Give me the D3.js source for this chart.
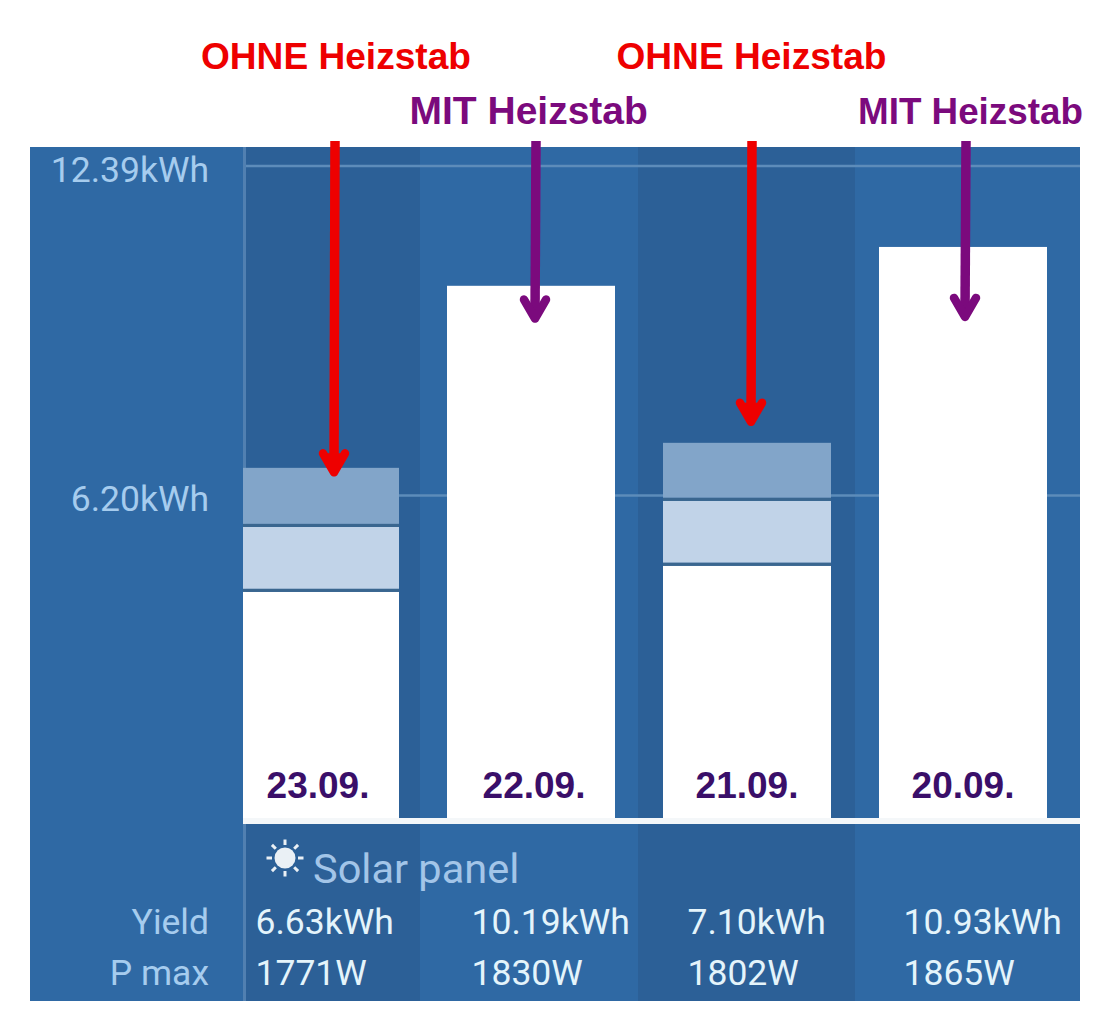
<!DOCTYPE html>
<html><head><meta charset="utf-8">
<script src="https://cdn.jsdelivr.net/npm/d3@7"></script>
<style>html,body{margin:0;padding:0;background:#fff}svg{display:block}</style>
</head><body><svg id="c" width="1113" height="1029"></svg>
<script>
const days = ["23.09.","22.09.","21.09.","20.09."];
const whiteKwh = [4.38,10.13,4.87,10.86];
const lightKwh = [1.22,0,1.22,0];
const mediumKwh = [1.11,0,1.09,0];
const yieldLabels = ["6.63kWh","10.19kWh","7.10kWh","10.93kWh"];
const pmaxLabels = ["1771W","1830W","1802W","1865W"];
const yTicks = [6.20,12.39];
const notes = [["OHNE Heizstab",0,"#ee0000"],["MIT Heizstab",1,"#7b0a7d"],["OHNE Heizstab",2,"#ee0000"],["MIT Heizstab",3,"#7b0a7d"]];

const svg = d3.select("#c");
const F = "Roboto, sans-serif", A = "'Liberation Sans', Arial, sans-serif";
const x = d3.scaleBand().domain(days).range([231,1047]).paddingInner(48/216).paddingOuter(0);
const y = d3.scaleLinear().domain([0,12.39]).range([825,165.5]);
const colour = {white:"#ffffff",light:"#c1d3e8",medium:"#82a5c9"};

svg.append("rect").attr("x",30).attr("y",147).attr("width",1050).attr("height",854).attr("fill","#2f69a4");
// alternating day bands
svg.append("g").selectAll("rect").data(days.filter((d,i)=>i%2===0)).join("rect")
  .attr("x",d=>days.indexOf(d)===0?244:x(d)-25).attr("y",147)
  .attr("width",d=>days.indexOf(d)===0?176:217).attr("height",854).attr("fill","#2c6097");

// axis and grid
const ax = svg.append("g").attr("transform","translate(244,0)")
  .call(d3.axisLeft(y).tickValues(yTicks).tickFormat(d=>d.toFixed(2)+"kWh").tickSize(-836).tickPadding(35));
ax.select(".domain").remove();
ax.selectAll("line").attr("stroke","#5d8cba").attr("stroke-width",2.5);
ax.selectAll("text").attr("font-family",F).attr("font-size",35.5).attr("fill","#a6ccee").attr("dy",15.5).attr("text-anchor","end");
svg.append("rect").attr("x",243).attr("y",147).attr("width",3).attr("height",854).attr("fill","#5180b1");

// stacked bars
svg.append("clipPath").attr("id","plot").append("rect").attr("x",243).attr("y",147).attr("width",837).attr("height",671);
const table = days.map((d,i)=>({day:d,white:whiteKwh[i],light:lightKwh[i],medium:mediumKwh[i]}));
const stacked = d3.stack().keys(["white","light","medium"])(table);
const bars = svg.append("g").attr("clip-path","url(#plot)");
stacked.forEach(s=>{
  bars.selectAll(null).data(s.filter(p=>p[1]>p[0])).join("rect")
    .attr("x",p=>x(p.data.day)).attr("width",x.bandwidth())
    .attr("y",p=>y(p[1]))
    .attr("height",p=>y(p[0])-y(p[1])-(p[0]>0?3:0))
    .attr("fill",colour[s.key]);
  // dark separator under upper segments
  bars.selectAll(null).data(s.filter(p=>p[1]>p[0]&&p[0]>0)).join("rect")
    .attr("x",p=>x(p.data.day)).attr("width",x.bandwidth())
    .attr("y",p=>y(p[0])-3).attr("height",3).attr("fill","#3a668f");
});
svg.append("rect").attr("x",243).attr("y",818).attr("width",837).attr("height",6).attr("fill","#f4f7f9");

// date labels
svg.append("g").selectAll("text").data(days).join("text")
  .attr("x",(d,i)=>x(d)+x.bandwidth()/2+(i<2?3:0)).attr("y",798).attr("text-anchor","middle")
  .attr("font-family",A).attr("font-weight",700).attr("font-size",37).attr("fill","#3a0f69").text(d=>d);

// table below the chart
svg.append("text").attr("x",313).attr("y",883).attr("font-family",F).attr("font-size",41.5).attr("fill","#a3c5e8").text("Solar panel");
const sun = svg.append("g").attr("transform","translate(285,858)");
sun.append("circle").attr("r",10.5).attr("fill","#eaf0f5");
sun.selectAll("line").data(d3.range(8)).join("line")
  .attr("x1",0).attr("x2",0).attr("y1",-13).attr("y2",-18.5)
  .attr("transform",d=>`rotate(${d*45})`).attr("stroke","#eaf0f5").attr("stroke-width",3);
[["Yield",934,yieldLabels],["P max",985,pmaxLabels]].forEach(([name,py,vals])=>{
  svg.append("text").attr("x",209).attr("y",py).attr("text-anchor","end").attr("font-family",F).attr("font-size",35.5).attr("fill","#a6ccee").text(name);
  svg.append("g").selectAll("text").data(vals).join("text")
    .attr("x",(d,i)=>x(days[i])+24.5).attr("y",py)
    .attr("font-family",F).attr("font-size",35.5).attr("fill","#e4f4fb").text(d=>d);
});

// annotations above the chart
const noteX = [201,409.5,616.5,858], noteY = [69,124,69,124], noteSize = [37.1,39,37.1,36.8];
svg.append("g").selectAll("text").data(notes).join("text")
  .attr("x",(d,i)=>noteX[i]).attr("y",(d,i)=>noteY[i])
  .attr("font-family",A).attr("font-weight",700).attr("font-size",(d,i)=>noteSize[i]).attr("fill",d=>d[2]).text(d=>d[0]);

// arrows: tips read in kWh
const arrowTips = [6.55,9.44,7.5,9.47];
const arrowX = [335,536,752,966];
const arrows = svg.append("g").attr("fill","none").attr("stroke-linecap","round").attr("stroke-linejoin","round");
arrows.selectAll("path.s").data(notes).join("path").attr("class","s")
  .attr("d",(d,i)=>`M${arrowX[i]},141L${arrowX[i]-1},${y(arrowTips[i])-6}`)
  .attr("stroke",d=>d[2]).attr("stroke-width",9.5).attr("stroke-linecap","butt");
arrows.selectAll("path.h").data(notes).join("path").attr("class","h")
  .attr("d",(d,i)=>{const tx=arrowX[i]-1,ty=y(arrowTips[i])-4;return `M${tx-11},${ty-19}L${tx},${ty}L${tx+11},${ty-19}`;})
  .attr("stroke",d=>d[2]).attr("stroke-width",8.5)
  .attr("fill",(d,i)=>i%2===0?d[2]:"none");
</script></body></html>
